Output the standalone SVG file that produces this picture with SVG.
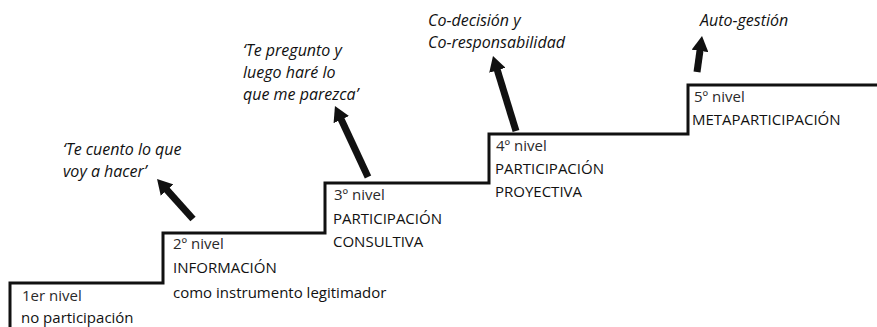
<svg xmlns="http://www.w3.org/2000/svg" width="877" height="327" viewBox="0 0 877 327">
<defs>
<style>
.lvl{font-family:"Open Sans","Noto Sans","DejaVu Sans",sans-serif;font-size:15px;font-weight:500;fill:#111}
.lvl .n{font-weight:400;fill:#2a2a2a}
.q{font-family:"Open Sans","Noto Sans","DejaVu Sans",sans-serif;font-style:italic;font-size:16px;font-weight:500;fill:#111}
.stair{fill:none;stroke:#111;stroke-width:3;stroke-linejoin:miter}
.arr{stroke:#111;stroke-width:7;fill:none;marker-end:url(#head)}
</style>
<marker id="head" markerUnits="userSpaceOnUse" markerWidth="15" markerHeight="17" refX="4" refY="8.5" orient="auto">
<path d="M0,0 L15,8.5 L0,17 z" fill="#111"/>
</marker>
</defs>
<rect width="877" height="327" fill="#fff"/>
<g id="connectors">
<path id="stairs" class="stair" d="M10,327 V283 H163 V233 H325 V183 H489 V134 H688 V85 H877"/>
<line class="arr" x1="193" y1="219" x2="164.4" y2="187.2"/>
<line class="arr" x1="368" y1="177" x2="339.6" y2="116"/>
<line class="arr" x1="516" y1="131" x2="496.2" y2="66.5"/>
<line class="arr" x1="697" y1="72" x2="700.5" y2="47"/>
</g>
<g id="nivel1" class="lvl">
<text class="n" x="22" y="301">1er nivel</text>
<text x="21" y="323">no participación</text>
</g>
<g id="nivel2" class="lvl">
<text class="n" x="173" y="249">2º nivel</text>
<text x="173" y="273">INFORMACIÓN</text>
<text x="173" y="298">como instrumento legitimador</text>
</g>
<g id="nivel3" class="lvl">
<text class="n" x="334" y="200">3º nivel</text>
<text x="333" y="224">PARTICIPACIÓN</text>
<text x="333" y="247">CONSULTIVA</text>
</g>
<g id="nivel4" class="lvl">
<text class="n" x="496" y="151">4º nivel</text>
<text x="495" y="174">PARTICIPACIÓN</text>
<text x="495" y="197">PROYECTIVA</text>
</g>
<g id="nivel5" class="lvl">
<text class="n" x="694" y="102">5º nivel</text>
<text x="692" y="125">METAPARTICIPACIÓN</text>
</g>
<g id="q1" class="q">
<text x="63" y="155">‘Te cuento lo que</text>
<text x="63" y="177">voy a hacer’</text>
</g>
<g id="q2" class="q">
<text x="243" y="56">‘Te pregunto y</text>
<text x="243" y="78">luego haré lo</text>
<text x="243" y="100">que me parezca’</text>
</g>
<g id="q3" class="q">
<text x="428" y="26">Co-decisión y</text>
<text x="428" y="48">Co-responsabilidad</text>
</g>
<g id="q4" class="q">
<text x="700" y="26">Auto-gestión</text>
</g>
</svg>
